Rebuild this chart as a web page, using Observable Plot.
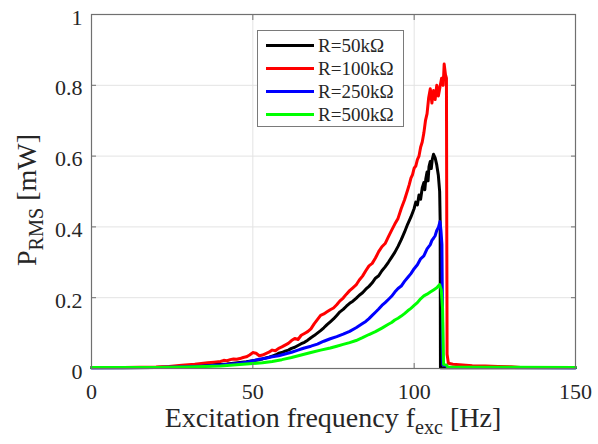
<!DOCTYPE html>
<html>
<head>
<meta charset="utf-8">
<script src="https://cdn.jsdelivr.net/npm/d3@7"></script>
<script src="https://cdn.jsdelivr.net/npm/@observablehq/plot@0.6"></script>
<style>
  html, body { margin: 0; padding: 0; background: #fff; }
  #wrap { position: relative; width: 598px; height: 444px; font-family: "Liberation Serif", "DejaVu Serif", serif; color: #262626; }
  #ylab { position: absolute; left: 27px; top: 200px; transform: translate(-50%, -50%) rotate(-90deg); font-size: 28px; white-space: nowrap; line-height: 1; }
  #xlab { position: absolute; left: 91px; width: 484px; top: 404px; text-align: center; font-size: 28px; white-space: nowrap; line-height: 1; }
  sub { font-size: 0.72em; vertical-align: -0.35em; line-height: 0; }
  #legend { position: absolute; left: 257px; top: 30px; width: 147px; height: 97px; border: 1px solid #7a7a7a; background: #fff; box-sizing: border-box; padding-top: 3px; }
  .row { position: relative; height: 23px; font-size: 19px; line-height: 23px; }
  .sw { position: absolute; left: 8px; top: 10px; width: 48px; height: 0; border-top: 3px solid #000; }
  .lt { position: absolute; left: 60px; top: 0; white-space: nowrap; }
</style>
</head>
<body>
<div id="wrap">
  <div id="chart"></div>
  <div id="ylab">P<sub>RMS</sub> [mW]</div>
  <div id="xlab">Excitation frequency f<sub>exc</sub> [Hz]</div>
  <div id="legend"></div>
</div>
<script>
const seriesNames = ["R=50k\u03A9", "R=100k\u03A9", "R=250k\u03A9", "R=500k\u03A9"];
const seriesColors = ["#000000", "#ff0000", "#0000ff", "#00ff00"];
const xTicks = [0, 50, 100, 150];
const yTicks = [0, 0.2, 0.4, 0.6, 0.8, 1];

// [frequency Hz, P_RMS mW]
const r50k = [[0,0.002],[10,0.002],[20,0.003],[25,0.004],[30,0.006],[35,0.009],[40,0.012],[42,0.013],[44,0.015],[46,0.017],[48,0.019],[50,0.022],[52,0.025],[53,0.027],[54,0.030],[55,0.032],[56,0.035],[57,0.038],[58,0.043],[59,0.045],[60,0.049],[61,0.052],[62,0.057],[63,0.060],[64,0.065],[65,0.070],[66,0.074],[67,0.080],[68,0.087],[69,0.093],[70,0.100],[71,0.107],[72,0.115],[73,0.124],[74,0.132],[75,0.140],[76,0.150],[77,0.160],[78,0.167],[79,0.176],[80,0.184],[81,0.190],[82,0.198],[83,0.207],[84,0.214],[85,0.224],[86,0.232],[87,0.242],[88,0.255],[89,0.262],[90,0.276],[91,0.287],[92,0.300],[93,0.314],[94,0.328],[95,0.345],[96,0.364],[97,0.385],[98,0.408],[99,0.428],[100,0.452],[100.5,0.47],[101,0.462],[101.5,0.49],[102,0.478],[102.5,0.51],[103,0.525],[103.3,0.505],[103.6,0.535],[104,0.555],[104.3,0.53],[104.6,0.57],[105,0.585],[105.3,0.565],[105.6,0.59],[106,0.605],[106.5,0.595],[107,0.575],[107.5,0.545],[107.9,0.50],[108.05,0.42],[108.15,0.002],[110,0.002],[150,0.002]];
const r100k = [[0,0.003],[10,0.003],[20,0.004],[24,0.006],[28,0.009],[32,0.012],[36,0.016],[38,0.018],[40,0.020],[41,0.023],[42,0.022],[43,0.025],[44,0.027],[45,0.026],[46,0.028],[47,0.031],[48,0.033],[49,0.038],[50,0.045],[51,0.043],[52,0.036],[53,0.038],[54,0.042],[55,0.046],[56,0.052],[57,0.050],[58,0.057],[59,0.061],[60,0.066],[61,0.071],[62,0.079],[63,0.085],[64,0.082],[65,0.094],[66,0.099],[67,0.104],[68,0.112],[69,0.126],[70,0.138],[71,0.150],[72,0.154],[73,0.160],[74,0.166],[75,0.171],[76,0.180],[77,0.191],[78,0.199],[79,0.210],[80,0.220],[81,0.228],[82,0.236],[83,0.250],[84,0.261],[85,0.276],[86,0.290],[87,0.297],[88,0.312],[89,0.330],[90,0.344],[91,0.353],[92,0.372],[93,0.390],[94,0.408],[95,0.424],[96,0.452],[97,0.476],[98,0.505],[98.5,0.52],[99,0.538],[99.5,0.548],[100,0.566],[100.5,0.572],[101,0.590],[101.5,0.60],[102,0.625],[102.5,0.64],[103,0.665],[103.5,0.70],[104,0.72],[104.5,0.765],[105,0.79],[105.5,0.75],[106,0.785],[106.5,0.76],[107,0.80],[107.5,0.77],[108,0.795],[108.5,0.82],[109,0.80],[109.3,0.86],[109.7,0.83],[110,0.82],[110.2,0.04],[110.6,0.015],[112,0.012],[115,0.010],[118,0.008],[122,0.007],[126,0.006],[130,0.005],[133,0.003],[140,0.003],[150,0.003]];
const r250k = [[0,0.002],[20,0.003],[30,0.005],[35,0.007],[40,0.010],[45,0.014],[48,0.018],[50,0.022],[52,0.026],[54,0.029],[56,0.033],[58,0.036],[60,0.041],[62,0.046],[64,0.052],[65,0.055],[66,0.058],[68,0.063],[70,0.069],[72,0.077],[74,0.084],[76,0.090],[78,0.097],[80,0.105],[82,0.115],[84,0.127],[85,0.133],[86,0.141],[87,0.150],[88,0.159],[89,0.168],[90,0.178],[91,0.186],[92,0.195],[93,0.204],[94,0.216],[95,0.226],[96,0.233],[97,0.246],[98,0.257],[99,0.268],[100,0.282],[101,0.293],[102,0.310],[103,0.318],[104,0.338],[105,0.350],[105.5,0.362],[106,0.368],[106.5,0.375],[107,0.390],[107.5,0.398],[108,0.415],[108.3,0.39],[108.6,0.35],[108.9,0.010],[110,0.008],[110.3,0.003],[150,0.002]];
const r500k = [[0,0.003],[20,0.003],[30,0.004],[40,0.007],[46,0.011],[50,0.014],[53,0.016],[56,0.020],[59,0.025],[62,0.031],[65,0.038],[68,0.045],[71,0.052],[74,0.058],[76,0.063],[78,0.068],[80,0.073],[82,0.079],[84,0.087],[86,0.096],[88,0.104],[90,0.114],[92,0.125],[93,0.130],[94,0.137],[95,0.142],[96,0.148],[97,0.155],[98,0.163],[99,0.170],[100,0.178],[101,0.186],[102,0.197],[103,0.205],[104,0.210],[105,0.216],[106,0.222],[107,0.228],[107.9,0.237],[108.4,0.222],[108.8,0.17],[109.1,0.012],[110,0.010],[110.4,0.004],[150,0.003]];

const allSeries = [r50k, r100k, r250k, r500k];
const rows = allSeries.flatMap((s, i) => s.map(([f, p]) => ({f, p, name: seriesNames[i]})));

const axisColor = "#707070";
const gridColor = "#e3e3e3";
const textColor = "#262626";
const serif = "'Liberation Serif', 'DejaVu Serif', serif";

const chart = Plot.plot({
  width: 598,
  height: 444,
  marginLeft: 91,
  marginRight: 23,
  marginTop: 14,
  marginBottom: 76,
  style: {fontFamily: serif, fontSize: "22px", color: textColor, background: "#fff"},
  x: {domain: [0, 150]},
  y: {domain: [0, 1]},
  color: {domain: seriesNames, range: seriesColors},
  marks: [
    Plot.gridX(xTicks, {stroke: gridColor, strokeOpacity: 1}),
    Plot.gridY(yTicks, {stroke: gridColor, strokeOpacity: 1}),
    ...seriesNames.map((n, i) => Plot.line(rows.filter(d => d.name === n), {x: "f", y: "p", stroke: seriesColors[i], strokeWidth: 3, strokeLinejoin: "round"})),
    Plot.frame({stroke: axisColor, strokeWidth: 1.2}),
    Plot.axisX(xTicks, {anchor: "bottom", tickSize: 0, tickPadding: 15, fontSize: 22, fontFamily: serif, fill: textColor, label: null, tickFormat: d => String(d)}),
    Plot.axisX(xTicks, {anchor: "bottom", tickSize: 5, dy: -5, stroke: axisColor, tickFormat: () => "", label: null}),
    Plot.axisX(xTicks, {anchor: "top", tickSize: 5, dy: 5, stroke: axisColor, tickFormat: () => "", label: null}),
    Plot.axisY(yTicks, {anchor: "left", tickSize: 0, tickPadding: 9, dy: 3, fontSize: 22, fontFamily: serif, fill: textColor, label: null, tickFormat: d => String(d)}),
    Plot.axisY(yTicks, {anchor: "left", tickSize: 5, dx: 5, stroke: axisColor, tickFormat: () => "", label: null}),
    Plot.axisY(yTicks, {anchor: "right", tickSize: 5, dx: -5, stroke: axisColor, tickFormat: () => "", label: null})
  ]
});
document.getElementById("chart").appendChild(chart);

const legend = document.getElementById("legend");
seriesNames.forEach((n, i) => {
  const row = document.createElement("div");
  row.className = "row";
  const sw = document.createElement("div");
  sw.className = "sw";
  sw.style.borderTopColor = seriesColors[i];
  const lt = document.createElement("div");
  lt.className = "lt";
  lt.textContent = n;
  row.appendChild(sw);
  row.appendChild(lt);
  legend.appendChild(row);
});
</script>
</body>
</html>
